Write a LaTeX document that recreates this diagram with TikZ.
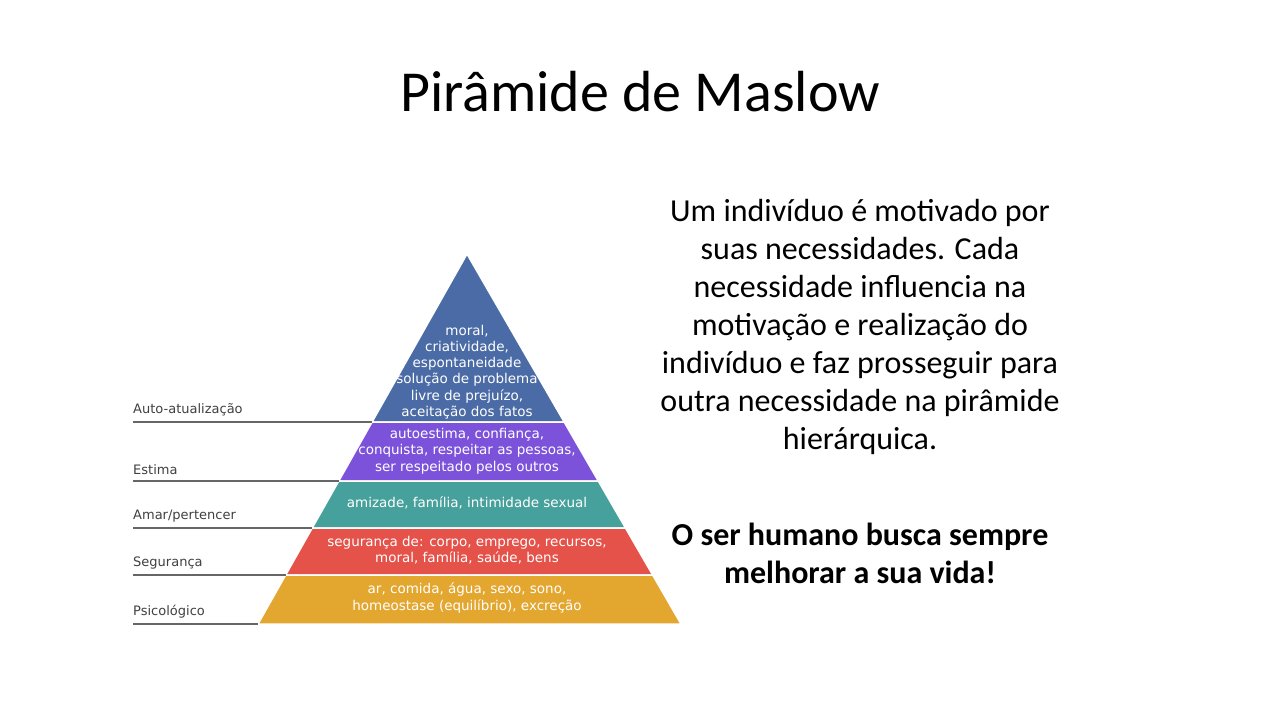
\documentclass[tikz,border=0pt]{standalone}
\usepackage{fontspec}
\setmainfont{Carlito}
\newfontfamily\lab{DejaVu Sans}
\begin{document}
\begin{tikzpicture}[x=1pt,y=-1pt,
 band/.style={draw=white,line width=1.5pt},
 inner/.style={font=\lab\fontsize{13.5}{16.3}\selectfont,text=white,align=center,inner sep=0pt},
 side/.style={font=\lab\fontsize{13}{15}\selectfont,text=black!75,anchor=south west,inner sep=0pt},
 rule/.style={draw=black!60,line width=1.2pt}]
\useasboundingbox (0,0) rectangle (1280,720);
\fill[white] (0,0) rectangle (1280,720);
\node (title) at (640,92) {\fontsize{58}{66}\selectfont Pirâmide de Maslow};
\def\L#1{467-(#1-254)*0.5649}
\def\R#1{467+(#1-254)*0.5784}
\fill[band,fill={rgb,255:red,74;green,107;blue,165}] (467,254) -- ({\R{422}},422) -- ({\L{422}},422) -- cycle;
\fill[band,fill={rgb,255:red,124;green,82;blue,218}] ({\L{422}},422) -- ({\R{422}},422) -- ({\R{481}},481) -- ({\L{481}},481) -- cycle;
\fill[band,fill={rgb,255:red,70;green,160;blue,155}] ({\L{481}},481) -- ({\R{481}},481) -- ({\R{528}},528) -- ({\L{528}},528) -- cycle;
\fill[band,fill={rgb,255:red,228;green,82;blue,74}] ({\L{528}},528) -- ({\R{528}},528) -- ({\R{575}},575) -- ({\L{575}},575) -- cycle;
\fill[band,fill={rgb,255:red,227;green,167;blue,48}] ({\L{575}},575) -- ({\R{575}},575) -- ({\R{624}},624) -- ({\L{624}},624) -- cycle;
\draw[rule] (133,422) -- ({\L{422}},422);
\draw[rule] (133,481) -- ({\L{481}},481);
\draw[rule] (133,528) -- ({\L{528}},528);
\draw[rule] (133,575) -- ({\L{575}},575);
\draw[rule] (133,624) -- ({\L{624}},624);
\node[side] (s1) at (133,416) {Auto-atualização};
\node[side] (s2) at (133,475) {Estima};
\node[side] (s3) at (133,522) {Amar/pertencer};
\node[side] (s4) at (133,569) {Segurança};
\node[side] (s5) at (133,618) {Psicológico};
\node[inner] (t1) at (467,372) {moral,\\criatividade,\\espontaneidade\\solução de problema\\livre de prejuízo,\\aceitação dos fatos};
\node[inner] (t2) at (467,451) {autoestima, confiança,\\conquista, respeitar as pessoas,\\ser respeitado pelos outros};
\node[inner] (t3) at (467,503) {amizade, família, intimidade sexual};
\node[inner] (t4) at (467,550) {segurança de: corpo, emprego, recursos,\\moral, família, saúde, bens};
\node[inner] (t5) at (467,598) {ar, comida, água, sexo, sono,\\homeostase (equilíbrio), excreção};
\node[align=center,font=\fontsize{32}{38}\selectfont] (body) at (860,327) {Um indivíduo é motivado por\\suas necessidades. Cada\\necessidade influencia na\\motivação e realização do\\indivíduo e faz prosseguir para\\outra necessidade na pirâmide\\hierárquica.};
\node[align=center,font=\bfseries\fontsize{32}{38}\selectfont] (bold) at (860,553) {O ser humano busca sempre\\melhorar a sua vida!};
\end{tikzpicture}
\end{document}
